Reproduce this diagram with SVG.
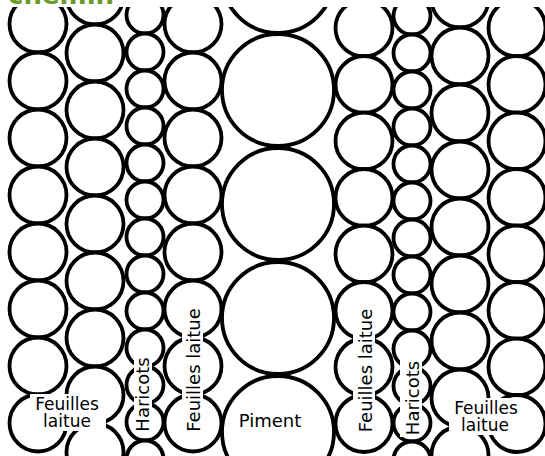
<svg xmlns="http://www.w3.org/2000/svg" width="545" height="456" viewBox="0 0 545 456">
<style>
circle{fill:#fff;stroke:#000;stroke-width:3.8}
.lbl{font-family:"DejaVu Sans",Verdana,sans-serif;font-size:18px;fill:#000}
.lbl2{font-family:"DejaVu Sans",Verdana,sans-serif;font-size:17px;fill:#000}
.bg{fill:#fff}
</style>
<rect width="545" height="456" fill="#fff"/>
<g id="colA"><circle cx="38" cy="24" r="28.5"/><circle cx="38" cy="81" r="28.5"/><circle cx="38" cy="138" r="28.5"/><circle cx="38" cy="195" r="28.5"/><circle cx="38" cy="252" r="28.5"/><circle cx="38" cy="309" r="28.5"/><circle cx="38" cy="366" r="28.5"/><circle cx="38" cy="423" r="28.5"/></g>
<g id="colB"><circle cx="95" cy="-4" r="28.5"/><circle cx="95" cy="53" r="28.5"/><circle cx="95" cy="110" r="28.5"/><circle cx="95" cy="167" r="28.5"/><circle cx="95" cy="224" r="28.5"/><circle cx="95" cy="281" r="28.5"/><circle cx="95" cy="338" r="28.5"/><circle cx="95" cy="395" r="28.5"/><circle cx="95" cy="452" r="28.5"/></g>
<g id="colC"><circle cx="145" cy="15" r="18.5"/><circle cx="145" cy="52" r="18.5"/><circle cx="145" cy="89" r="18.5"/><circle cx="145" cy="126" r="18.5"/><circle cx="145" cy="163" r="18.5"/><circle cx="145" cy="200" r="18.5"/><circle cx="145" cy="237" r="18.5"/><circle cx="145" cy="274" r="18.5"/><circle cx="145" cy="311" r="18.5"/><circle cx="145" cy="348" r="18.5"/><circle cx="145" cy="385" r="18.5"/><circle cx="145" cy="422" r="18.5"/><circle cx="145" cy="459" r="18.5"/></g>
<g id="colD"><circle cx="193" cy="24" r="28.5"/><circle cx="193" cy="81" r="28.5"/><circle cx="193" cy="138" r="28.5"/><circle cx="193" cy="195" r="28.5"/><circle cx="193" cy="252" r="28.5"/><circle cx="193" cy="309" r="28.5"/><circle cx="193" cy="366" r="28.5"/><circle cx="193" cy="423" r="28.5"/></g>
<g id="colE"><circle cx="278" cy="-23" r="56"/><circle cx="278" cy="90" r="56"/><circle cx="278" cy="204" r="56"/><circle cx="278" cy="318" r="56"/><circle cx="278" cy="432" r="56"/></g>
<g id="colF"><circle cx="364" cy="28" r="28.5"/><circle cx="364" cy="84.5" r="28.5"/><circle cx="364" cy="141" r="28.5"/><circle cx="364" cy="197.5" r="28.5"/><circle cx="364" cy="254" r="28.5"/><circle cx="364" cy="310.5" r="28.5"/><circle cx="364" cy="367" r="28.5"/><circle cx="364" cy="423.5" r="28.5"/></g>
<g id="colG"><circle cx="412" cy="16" r="18.5"/><circle cx="412" cy="53" r="18.5"/><circle cx="412" cy="90" r="18.5"/><circle cx="412" cy="127" r="18.5"/><circle cx="412" cy="164" r="18.5"/><circle cx="412" cy="201" r="18.5"/><circle cx="412" cy="238" r="18.5"/><circle cx="412" cy="275" r="18.5"/><circle cx="412" cy="312" r="18.5"/><circle cx="412" cy="349" r="18.5"/><circle cx="412" cy="386" r="18.5"/><circle cx="412" cy="423" r="18.5"/><circle cx="412" cy="460" r="18.5"/></g>
<g id="colH"><circle cx="460" cy="-1" r="28.5"/><circle cx="460" cy="56" r="28.5"/><circle cx="460" cy="113" r="28.5"/><circle cx="460" cy="170" r="28.5"/><circle cx="460" cy="227" r="28.5"/><circle cx="460" cy="284" r="28.5"/><circle cx="460" cy="341" r="28.5"/><circle cx="460" cy="398" r="28.5"/><circle cx="460" cy="455" r="28.5"/></g>
<g id="colI"><circle cx="517" cy="28" r="28.5"/><circle cx="517" cy="84.5" r="28.5"/><circle cx="517" cy="141" r="28.5"/><circle cx="517" cy="197.5" r="28.5"/><circle cx="517" cy="254" r="28.5"/><circle cx="517" cy="310.5" r="28.5"/><circle cx="517" cy="367" r="28.5"/><circle cx="517" cy="423.5" r="28.5"/></g>
<g id="title"><rect x="0" y="0" width="545" height="7" fill="#fff"/><text x="8" y="4" font-family="DejaVu Sans,sans-serif" font-weight="bold" font-size="26" fill="#6b9a2b">chemin</text></g>
<g id="labels">
<rect class="bg" x="30" y="394" width="76" height="37"/>
<text class="lbl2" x="67" y="409.5" text-anchor="middle">Feuilles</text>
<text class="lbl2" x="67" y="426.5" text-anchor="middle">laitue</text>
<rect class="bg" x="134" y="356" width="18" height="78"/>
<text class="lbl" transform="translate(148.5,394.5) rotate(-90)" text-anchor="middle">Haricots</text>
<rect class="bg" x="182" y="306" width="21" height="128"/>
<text class="lbl" transform="translate(200,370) rotate(-90)" text-anchor="middle">Feuilles laitue</text>
<text class="lbl" x="270" y="427" text-anchor="middle">Piment</text>
<rect class="bg" x="353" y="306" width="22" height="130"/>
<text class="lbl" transform="translate(372,370.5) rotate(-90)" text-anchor="middle">Feuilles laitue</text>
<rect class="bg" x="400" y="359" width="22" height="78"/>
<text class="lbl" transform="translate(419,398) rotate(-90)" text-anchor="middle">Haricots</text>
<rect class="bg" x="449" y="398" width="75" height="37"/>
<text class="lbl2" x="486" y="414" text-anchor="middle">Feuilles</text>
<text class="lbl2" x="485" y="430.5" text-anchor="middle">laitue</text>
</g>
</svg>
